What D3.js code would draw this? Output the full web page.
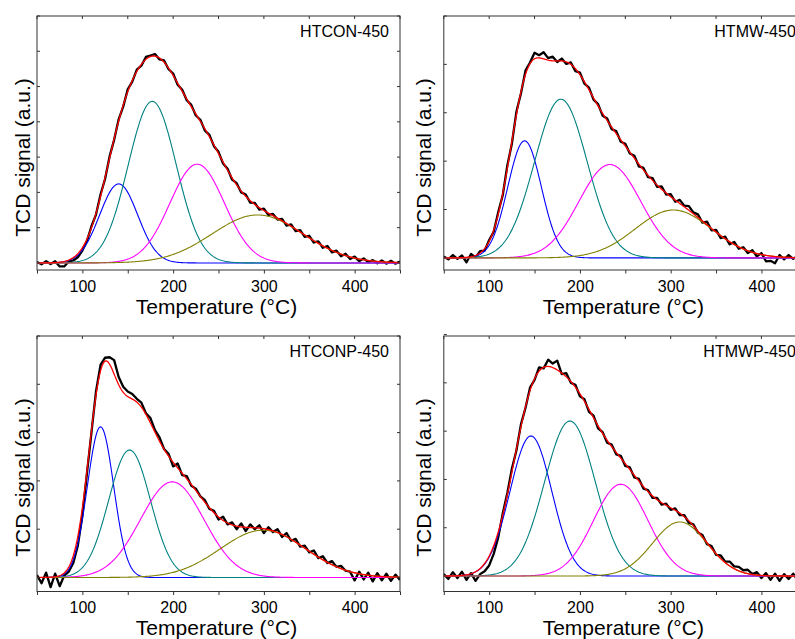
<!DOCTYPE html>
<html><head><meta charset="utf-8">
<script src="https://cdn.jsdelivr.net/npm/d3@7"></script>
<style>body{margin:0;background:#fff}svg{display:block;font-family:"Liberation Sans",Arial,sans-serif}</style>
</head><body><svg id="c" width="795" height="639"></svg>
<script>
const panelNames = ["HTCON-450","HTMW-450","HTCONP-450","HTMWP-450"];
const xLabelTicks = [100,200,300,400];
const xAllTicks = [50,100,150,200,250,300,350,400,450];
// measured TCD signal, one value every 5 °C from 50 to 450 °C (a.u.)
const signalHTCON = [
 0.03,-0.04,0.05,-0.03,0.05,-0.10,-0.10,0.04,0.07,0.16,
 0.35,0.62,1.04,1.37,1.94,2.38,3.02,3.49,4.07,4.43,
 4.92,5.14,5.48,5.59,5.84,5.88,5.92,5.77,5.74,5.49,
 5.37,5.05,4.91,4.61,4.48,4.18,4.06,3.75,3.63,3.31,
 3.15,2.82,2.67,2.36,2.26,2.00,1.94,1.71,1.70,1.51,
 1.54,1.36,1.39,1.23,1.25,1.06,1.09,0.90,0.93,0.74,
 0.77,0.58,0.61,0.43,0.48,0.30,0.35,0.19,0.26,0.11,
 0.18,0.05,0.13,0.02,0.08,-0.01,0.07,-0.02,0.06,-0.02,
 0.04];
const signalHTMW = [
 0.03,-0.03,0.06,-0.02,0.05,-0.09,0.08,0.01,0.14,0.15,
 0.37,0.54,0.95,1.30,1.91,2.36,3.02,3.40,3.87,4.04,
 4.24,4.19,4.25,4.13,4.16,4.05,4.12,4.01,4.04,3.86,
 3.83,3.60,3.52,3.27,3.18,2.94,2.88,2.66,2.62,2.40,
 2.36,2.16,2.11,1.89,1.86,1.67,1.65,1.47,1.48,1.31,
 1.32,1.16,1.20,1.08,1.07,0.94,0.90,0.73,0.75,0.57,
 0.58,0.41,0.44,0.28,0.33,0.19,0.22,0.10,0.16,0.03,
 0.10,-0.07,-0.06,-0.11,0.06,-0.03,0.06,-0.02,0.04,-0.03,
 0.03];
const signalHTCONP = [
 0.05,-0.12,0.10,-0.20,0.08,-0.18,0.04,0.12,0.30,0.66,
 1.28,2.15,3.00,3.85,4.40,4.55,4.56,4.50,4.15,3.95,
 3.85,3.80,3.70,3.62,3.40,3.30,3.05,2.90,2.66,2.56,
 2.30,2.36,2.12,2.10,1.90,1.84,1.68,1.60,1.42,1.38,
 1.20,1.26,1.10,1.14,1.00,1.12,0.96,1.10,1.00,1.08,
 0.92,1.04,0.94,1.00,0.84,0.92,0.76,0.80,0.64,0.66,
 0.52,0.56,0.40,0.44,0.30,0.34,0.22,0.24,0.14,0.12,
 -0.06,0.12,-0.04,0.10,-0.08,0.09,-0.06,0.08,-0.07,0.06,
 -0.05];
const signalHTMWP = [
 0.04,-0.06,0.08,-0.04,0.09,-0.08,0.06,-0.10,0.04,0.10,
 0.22,0.46,0.80,1.30,1.72,2.22,2.60,3.14,3.48,3.90,
 4.06,4.32,4.30,4.48,4.40,4.46,4.18,4.20,4.00,3.96,
 3.72,3.66,3.40,3.32,3.06,2.98,2.76,2.72,2.52,2.49,
 2.28,2.25,2.04,2.01,1.81,1.78,1.62,1.62,1.48,1.50,
 1.37,1.40,1.26,1.26,1.10,1.07,0.90,0.85,0.66,0.62,
 0.44,0.43,0.30,0.30,0.20,0.19,0.12,0.13,0.04,0.08,
 -0.04,0.06,-0.08,0.05,-0.10,0.04,-0.06,0.05,-0.09,0.04,
 -0.05];
const signals = [signalHTCON, signalHTMW, signalHTCONP, signalHTMWP];
// fitted Gaussian components (blue, teal, magenta, olive): centre °C, height a.u., sigma °C
const peakCenters = [[140,177,226.5,293],[139,179,233,303],[120,152,199,299],[146,189,245,310]];
const peakHeights = [[2.24,4.58,2.80,1.36],[2.42,3.28,1.93,0.99],[3.12,2.64,1.98,0.98],[2.90,3.21,1.90,1.12]];
const peakSigmas  = [[21,26.5,30,50],[18.5,29,34,42],[14.5,23,35,47],[23,28,30,30]];
const yTickMax = [7,5,5,5];
const yDomains = [[-0.2,7],[-0.25,5.0],[-0.29,5.0],[-0.32,4.97]];

const compColors = ["#0000ff","#008080","#ff00ff","#808000"];
const layout = [
 {x0:37,x1:400,y0:16,y1:270,lx:29.6},
 {x0:443.8,x1:806.8,y0:16,y1:270,lx:430.5},
 {x0:37,x1:400,y0:336,y1:591.5,lx:29.6},
 {x0:443.8,x1:806.8,y0:336,y1:591.5,lx:430.5}];

const svg = d3.select("#c");
const grid = d3.range(50,450.5,1);
const gauss = (t,c,h,s)=>h*Math.exp(-(t-c)*(t-c)/(2*s*s));
panelNames.forEach((name,i)=>{
  const L = layout[i];
  const x = d3.scaleLinear().domain([50,450]).range([L.x0,L.x1]);
  const y = d3.scaleLinear().domain(yDomains[i]).range([L.y1,L.y0]);
  const g = svg.append("g");
  g.append("clipPath").attr("id","cp"+i).append("rect")
    .attr("x",L.x0).attr("y",L.y0).attr("width",L.x1-L.x0).attr("height",L.y1-L.y0);
  const plot = g.append("g").attr("clip-path",`url(#cp${i})`);
  const line = d3.line().x(d=>x(d[0])).y(d=>y(d[1]));
  const meas = signals[i].map((v,j)=>[50+5*j,v]);
  plot.append("path").datum(meas).attr("d",line).attr("fill","none")
    .attr("stroke","#000").attr("stroke-width",2.3).attr("stroke-linejoin","round");
  [0,1,2,3].forEach(k=>{
    const pts = grid.map(t=>[t,gauss(t,peakCenters[i][k],peakHeights[i][k],peakSigmas[i][k])]);
    plot.append("path").datum(pts).attr("d",line).attr("fill","none").attr("stroke",compColors[k]).attr("stroke-width",1.1);
  });
  const fit = grid.map(t=>[t,d3.sum([0,1,2,3],k=>gauss(t,peakCenters[i][k],peakHeights[i][k],peakSigmas[i][k]))]);
  plot.append("path").datum(fit).attr("d",line).attr("fill","none").attr("stroke","#ff0000").attr("stroke-width",1.3);

  g.append("rect").attr("x",L.x0).attr("y",L.y0).attr("width",L.x1-L.x0).attr("height",L.y1-L.y0)
    .attr("fill","none").attr("stroke","#333").attr("stroke-width",1);
  const ax = g.append("g").attr("transform",`translate(0,${L.y1})`)
    .call(d3.axisBottom(x).tickValues(xAllTicks).tickSize(3.5).tickSizeOuter(0)
      .tickFormat(d=>xLabelTicks.includes(d)?d:""));
  ax.select(".domain").remove();
  ax.selectAll("line").attr("stroke","#333");
  ax.selectAll("text").attr("font-size",16).attr("font-family","Liberation Sans, Arial, sans-serif")
    .attr("fill","#000").attr("y",0).attr("dy","21.5px");
  g.append("g").selectAll("line").data(xAllTicks).join("line")
    .attr("x1",d=>x(d)).attr("x2",d=>x(d)).attr("y1",L.y0).attr("y2",L.y0+3).attr("stroke","#333");
  const yt = d3.range(0,yTickMax[i]+1);
  g.append("g").selectAll("line").data(yt).join("line")
    .attr("x1",L.x0).attr("x2",L.x0+3).attr("y1",d=>y(d)).attr("y2",d=>y(d)).attr("stroke","#333");
  g.append("g").selectAll("line").data(yt).join("line")
    .attr("x1",L.x1-3).attr("x2",L.x1).attr("y1",d=>y(d)).attr("y2",d=>y(d)).attr("stroke","#333");
  g.append("text").attr("x",L.x1-11).attr("y",L.y0+21.3).attr("text-anchor","end")
    .attr("font-size",16).text(name);
  g.append("text").attr("x",(L.x0+L.x1)/2 - 2).attr("y",L.y1+43.5).attr("text-anchor","middle")
    .attr("font-size",21).text("Temperature (°C)");
  g.append("text").attr("transform",`translate(${L.lx},${L.y0+141.5}) rotate(-90)`)
    .attr("text-anchor","middle").attr("font-size",21).text("TCD signal (a.u.)");
});
</script></body></html>
